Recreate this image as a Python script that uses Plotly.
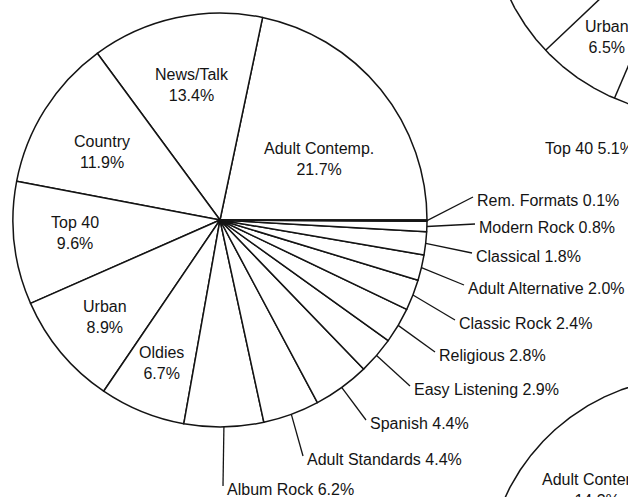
import numpy as np
import plotly.graph_objects as go

W, H = 628, 497

# Share of stations by format (main pie, counter-clockwise from 3 o'clock)
formats = ["Adult Contemp.", "News/Talk", "Country", "Top 40", "Urban", "Oldies",
           "Album Rock", "Adult Standards", "Spanish", "Easy Listening", "Religious",
           "Classic Rock", "Adult Alternative", "Classical", "Modern Rock", "Rem. Formats"]
shares = [21.7, 13.4, 11.9, 9.6, 8.9, 6.7, 6.2, 4.4, 4.4, 2.9, 2.8, 2.4, 2.0, 1.8, 0.8, 0.1]

# Neighbouring pies that run off the page edge
upper_formats = ["Urban", "Top 40"]
upper_shares = [6.5, 5.1]
lower_formats = ["Adult Contemp."]
lower_shares = [14.3]

# ---- geometry in page pixels (x right, y down) ----
MAIN_C = (220.0, 220.0)
RADIUS = 207.0
UPPER_C, UPPER_START = (696.0, -92.0), 223.4
LOWER_C, LOWER_START = (693.0, 584.0), 106.0

INK = "#141414"
FONT = dict(family="Liberation Sans, Arial, Helvetica, sans-serif", size=16, color=INK)

# label boxes for the big slices (centre of the two-line label)
inside_pos = {
    "Adult Contemp.": (319, 159),
    "News/Talk": (192, 85),
    "Country": (102, 152),
    "Top 40": (75, 233),
    "Urban": (105, 317),
    "Oldies": (161, 363),
}
# start of the text for the small slices (left edge, vertical centre)
outside_pos = {
    "Album Rock": (225, 489),
    "Adult Standards": (305, 459),
    "Spanish": (368, 423),
    "Easy Listening": (412, 389),
    "Religious": (437, 355),
    "Classic Rock": (457, 323),
    "Adult Alternative": (466, 288),
    "Classical": (474, 256),
    "Modern Rock": (477, 227),
    "Rem. Formats": (475, 200),
}


def rim_point(c, r, deg):
    a = np.radians(deg)
    return c[0] + r * np.cos(a), c[1] - r * np.sin(a)


def pie_outline(c, r, start_deg, values):
    t = np.linspace(0, 2 * np.pi, 1441)
    xs = list(c[0] + r * np.cos(t)) + [None]
    ys = list(c[1] - r * np.sin(t)) + [None]
    edges = [start_deg]
    for v in values:
        edges.append(edges[-1] + 3.6 * v)
    for e in edges:
        px, py = rim_point(c, r, e)
        xs += [c[0], px, None]
        ys += [c[1], py, None]
    return xs, ys


fig = go.Figure()

# main pie drawn by the pie trace itself; in counter-clockwise mode plotly ends
# the first slice at `rotation`, so shift it to make the first slice start at 3 o'clock
total = float(sum(shares))
cx, cy = MAIN_C
fig.add_trace(go.Pie(
    labels=formats, values=shares, sort=False,
    direction="counterclockwise", rotation=90 - 360 * shares[0] / total,
    textinfo="none", hoverinfo="label+percent",
    marker=dict(colors=["white"] * len(shares), line=dict(color=INK, width=1.5)),
    domain=dict(x=[(cx - RADIUS) / W, (cx + RADIUS) / W],
                y=[(H - (cy + RADIUS)) / H, (H - (cy - RADIUS)) / H]),
    showlegend=False,
))

# partial pies at the right edge
for c, start, vals in [(UPPER_C, UPPER_START, upper_shares),
                       (LOWER_C, LOWER_START, lower_shares)]:
    xs, ys = pie_outline(c, RADIUS, start, vals)
    fig.add_trace(go.Scatter(x=xs, y=ys, mode="lines",
                             line=dict(color=INK, width=1.5),
                             hoverinfo="skip", showlegend=False))

# leader lines for the small slices
cum = np.concatenate([[0.0], np.cumsum(shares)]) / total * 100
lx, ly = [], []
annotations = []
for i, (name, val) in enumerate(zip(formats, shares)):
    label = f"{name}<br>{val:.1f}%"
    if name in inside_pos:
        x, y = inside_pos[name]
        annotations.append(dict(x=x, y=y, text=label, showarrow=False,
                                xanchor="center", yanchor="middle", align="center"))
    else:
        mid = 3.6 * (cum[i] + cum[i + 1]) / 2
        sx, sy = rim_point(MAIN_C, RADIUS, mid)
        tx, ty = outside_pos[name]
        lx += [sx, tx - 2, None]
        ly += [sy, ty - 3, None]
        annotations.append(dict(x=tx, y=ty, text=f"{name} {val:.1f}%", showarrow=False,
                                xanchor="left", yanchor="middle"))

fig.add_trace(go.Scatter(x=lx, y=ly, mode="lines", line=dict(color=INK, width=1.3),
                         hoverinfo="skip", showlegend=False))

# labels of the partial pies
annotations.append(dict(x=607, y=37, text=f"{upper_formats[0]}<br>{upper_shares[0]:.1f}%",
                        showarrow=False, xanchor="center", yanchor="middle", align="center"))
annotations.append(dict(x=543, y=148, text=f"{upper_formats[1]} {upper_shares[1]:.1f}%",
                        showarrow=False, xanchor="left", yanchor="middle"))
annotations.append(dict(x=597, y=490, text=f"{lower_formats[0]}<br>{lower_shares[0]:.1f}%",
                        showarrow=False, xanchor="center", yanchor="middle", align="center"))

for a in annotations:
    a.update(xref="x", yref="y", font=FONT)

fig.update_layout(
    width=W, height=H,
    margin=dict(l=0, r=0, t=0, b=0),
    paper_bgcolor="white", plot_bgcolor="white",
    xaxis=dict(range=[0, W], visible=False, fixedrange=True),
    yaxis=dict(range=[H, 0], visible=False, fixedrange=True),
    annotations=annotations,
    font=FONT,
)

fig.write_html("out.html")
